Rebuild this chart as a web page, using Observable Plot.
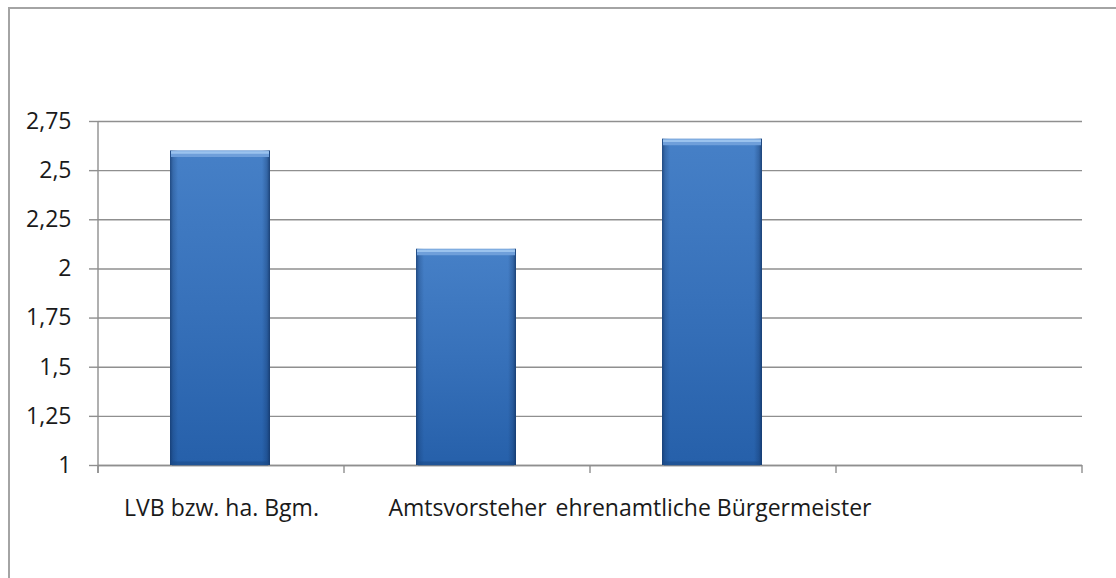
<!DOCTYPE html>
<html>
<head>
<meta charset="utf-8">
<script src="https://cdn.jsdelivr.net/npm/d3@7"></script>
<script src="https://cdn.jsdelivr.net/npm/@observablehq/plot@0.6"></script>
<style>
  html, body { margin: 0; padding: 0; background: #fff; overflow: hidden; }
  #frame { position: absolute; left: 8px; top: 7px; width: 1300px; height: 800px;
           border-left: 2px solid #a4a4a4; border-top: 2px solid #a4a4a4; }
  #chart { position: absolute; left: 0; top: 0; }
</style>
</head>
<body>
<div id="frame"></div>
<div id="chart"></div>
<script>
// Categories along x (the last slot is empty), mean scores per group
const categories = ["LVB bzw. ha. Bgm.", "Amtsvorsteher", "ehrenamtliche Bürgermeister", ""];
const values = [2.6, 2.1, 2.66, null];
const yTicks = [1, 1.25, 1.5, 1.75, 2, 2.25, 2.5, 2.75];
const baseline = 1;

const data = categories
  .map((category, i) => ({category, value: values[i]}))
  .filter(d => d.value != null);

const fmt = d => String(d).replace(".", ",");
const font = "'Open Sans', sans-serif";
const gridColor = "#8f8f8f";
const textColor = "#1a1a1a";

const chart = Plot.plot({
  width: 1116,
  height: 578,
  marginTop: 121,
  marginBottom: 113,
  marginLeft: 98,
  marginRight: 34,
  style: {fontFamily: font, fontSize: "23px", color: textColor, background: "transparent", overflow: "visible"},
  x: {domain: categories, padding: 0, label: null},
  y: {domain: [yTicks[0], yTicks[yTicks.length - 1]], label: null},
  marks: [
    Plot.gridY(yTicks, {stroke: gridColor, strokeOpacity: 1, strokeWidth: 1.4}),
    Plot.axisY(yTicks, {tickSize: 9, tickPadding: 18, tickFormat: fmt, stroke: gridColor, strokeWidth: 1.4, fill: textColor}),
    Plot.axisX({tickSize: 0, tickPadding: 34, fill: textColor}),
    Plot.ruleY([baseline], {stroke: gridColor, strokeWidth: 1.4}),
    // bar body with vertical shading
    Plot.barY(data, {x: "category", y1: baseline, y2: "value", insetLeft: 72, insetRight: 74,
                     fill: "url(#barBody)", ariaLabel: "bar body"}),
    // darker side bevels
    Plot.barY(data, {x: "category", y1: baseline, y2: "value", insetLeft: 72, insetRight: 74,
                     fill: "url(#barEdges)"}),
    // bottom bevel
    Plot.tickY(data, {x: "category", y: () => baseline, insetLeft: 74, insetRight: 76, dy: -2,
                      stroke: "#1c4a86", strokeOpacity: 0.55, strokeWidth: 4}),
    // top bevel highlight
    Plot.tickY(data, {x: "category", y: "value", insetLeft: 73, insetRight: 75, dy: 3,
                      stroke: "#6f9fda", strokeWidth: 6}),
    Plot.tickY(data, {x: "category", y: "value", insetLeft: 73, insetRight: 75, dy: 1.5,
                      stroke: "#9bc3ee", strokeWidth: 2.5})
  ]
});

document.getElementById("chart").appendChild(chart);

const svg = d3.select(chart);
const defs = svg.insert("defs", ":first-child");

const body = defs.append("linearGradient").attr("id", "barBody")
  .attr("x1", 0).attr("y1", 0).attr("x2", 0).attr("y2", 1);
body.append("stop").attr("offset", "0%").attr("stop-color", "#4680c7");
body.append("stop").attr("offset", "50%").attr("stop-color", "#3771ba");
body.append("stop").attr("offset", "100%").attr("stop-color", "#2660aa");

const edges = defs.append("linearGradient").attr("id", "barEdges")
  .attr("x1", 0).attr("y1", 0).attr("x2", 1).attr("y2", 0);
[[0, 0.65], [0.03, 0.25], [0.08, 0], [0.92, 0], [0.97, 0.3], [1, 0.75]].forEach(([o, a]) =>
  edges.append("stop").attr("offset", o).attr("stop-color", "#0f2f5e").attr("stop-opacity", a));

svg.select('g[aria-label="bar body"]').style("filter", "drop-shadow(2px 2px 2px rgba(0,0,0,0.35))");

// left axis line and tick marks at the category boundaries
const xs = chart.scale("x");
const ys = chart.scale("y");
const y0 = ys.apply(baseline);
const yTop = ys.apply(yTicks[yTicks.length - 1]);
const bounds = xs.domain.map(d => xs.apply(d)).concat([xs.apply(xs.domain[xs.domain.length - 1]) + xs.bandwidth]);
const axisG = svg.append("g").attr("stroke", gridColor).attr("stroke-width", 1.4);
axisG.append("line").attr("x1", bounds[0]).attr("x2", bounds[0]).attr("y1", yTop).attr("y2", y0 + 8);
bounds.forEach(b => axisG.append("line").attr("x1", b).attr("x2", b).attr("y1", y0).attr("y2", y0 + 8));
</script>
</body>
</html>
